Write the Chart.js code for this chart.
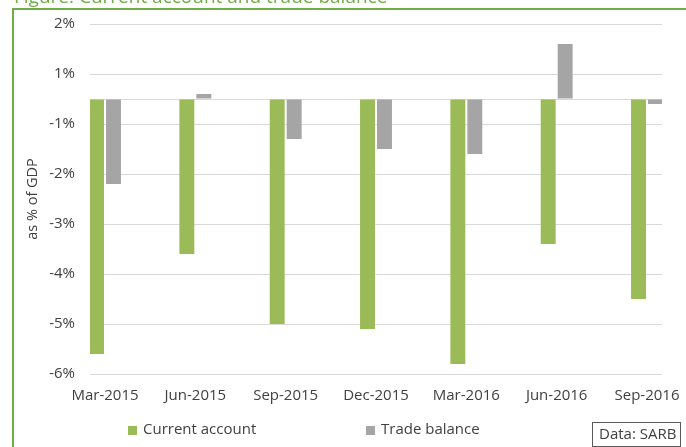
<!DOCTYPE html>
<html lang="en">
<head>
    <meta charset="UTF-8">
    <title>Current account and trade balance</title>
    <script src="https://cdn.jsdelivr.net/npm/chart.js"></script>
    <style>
        body { margin: 0; background: #fff; }
        #wrap { position: relative; width: 686px; height: 447px; }
    </style>
</head>
<body>
    <div id="wrap"><canvas id="myChart" width="686" height="447"></canvas></div>
    <script>
        // Données (en % du PIB)
        const categories = ['Mar-2015', 'Jun-2015', 'Sep-2015', 'Dec-2015', 'Mar-2016', 'Jun-2016', 'Sep-2016'];
        const currentAccount = [-5.1, -3.1, -4.5, -4.6, -5.3, -2.9, -4.0];
        const tradeBalance = [-1.7, 0.1, -0.8, -1.0, -1.1, 1.1, -0.1];

        // Graduations de l'axe Y, telles qu'elles apparaissent
        const yTickValues = [-5.5, -4.5, -3.5, -2.5, -1.5, -0.5, 0, 0.5, 1.5];
        const yTickLabels = ['-6%', '-5%', '-4%', '-3%', '-2%', '-1%', '', '1%', '2%'];

        const figureTitle = 'Figure: Current account and trade balance';
        const sourceNote = 'Data: SARB';

        const green = '#9BBB59';
        const grey = '#A5A5A5';
        const textColor = '#404040';
        const fontFamily = "'Open Sans', sans-serif";

        // Cadre vert, titre coupé, légende et source
        const decorations = {
            id: 'decorations',
            beforeDraw(chart) {
                const ctx = chart.ctx;
                ctx.save();
                ctx.fillStyle = '#fff';
                ctx.fillRect(0, 0, chart.width, chart.height);
                ctx.fillStyle = '#70AD47';
                ctx.fillRect(12, 8, chart.width - 12, 2);
                ctx.fillRect(12, 8, 2, chart.height - 8);
                ctx.font = '19px ' + fontFamily;
                ctx.textBaseline = 'alphabetic';
                ctx.fillText(figureTitle, 14, 2.5);
                ctx.restore();
            },
            afterDraw(chart) {
                const ctx = chart.ctx;
                ctx.save();
                ctx.font = '15px ' + fontFamily;
                ctx.textBaseline = 'middle';
                const legendX = [128, 366];
                chart.data.datasets.forEach(function(ds, i) {
                    ctx.fillStyle = ds.backgroundColor;
                    ctx.fillRect(legendX[i], 426, 9, 9);
                    ctx.fillStyle = textColor;
                    ctx.fillText(ds.label, legendX[i] + 15, 430);
                });
                ctx.strokeStyle = '#595959';
                ctx.lineWidth = 1;
                ctx.strokeRect(592.5, 422.5, 88, 24);
                ctx.fillStyle = textColor;
                ctx.fillText(sourceNote, 599, 435);
                ctx.restore();
            }
        };

        const ctx = document.getElementById('myChart').getContext('2d');
        const myChart = new Chart(ctx, {
            type: 'bar',
            data: {
                datasets: [{
                    label: 'Current account',
                    data: currentAccount.map(function(v, i) { return { x: i, y: v }; }),
                    backgroundColor: green,
                    categoryPercentage: 0.376,
                    barPercentage: 0.88
                }, {
                    label: 'Trade balance',
                    data: tradeBalance.map(function(v, i) { return { x: i, y: v }; }),
                    backgroundColor: grey,
                    categoryPercentage: 0.376,
                    barPercentage: 0.88
                }]
            },
            options: {
                responsive: false,
                animation: false,
                layout: { padding: { top: 20, right: 24, left: 0, bottom: 0 } },
                plugins: {
                    legend: { display: false },
                    tooltip: { enabled: false }
                },
                scales: {
                    x: {
                        type: 'linear',
                        offset: false,
                        min: -0.166,
                        max: 6.166,
                        grid: { display: false, drawTicks: false, offset: false },
                        border: { display: false },
                        afterFit: function(scale) {
                            scale.height = 73;
                            scale.paddingLeft = 0;
                            scale.paddingRight = 0;
                        },
                        ticks: {
                            stepSize: 1,
                            includeBounds: false,
                            autoSkip: false,
                            maxRotation: 0,
                            padding: 13,
                            color: textColor,
                            font: { family: fontFamily, size: 15 },
                            callback: function(value) { return categories[value]; }
                        }
                    },
                    y: {
                        min: -5.5,
                        max: 1.5,
                        afterFit: function(scale) { scale.width = 90; },
                        afterBuildTicks: function(scale) {
                            scale.ticks = yTickValues.map(function(v) { return { value: v }; });
                        },
                        grid: { color: '#D9D9D9', drawTicks: false },
                        border: { display: false },
                        ticks: {
                            padding: 15,
                            color: textColor,
                            font: { family: fontFamily, size: 15 },
                            callback: function(value) { return yTickLabels[yTickValues.indexOf(value)]; }
                        },
                        title: {
                            display: true,
                            text: 'as % of GDP',
                            color: textColor,
                            font: { family: fontFamily, size: 14.5 },
                            padding: { top: 24, bottom: 0 }
                        }
                    }
                }
            },
            plugins: [decorations]
        });
    </script>
</body>
</html>
